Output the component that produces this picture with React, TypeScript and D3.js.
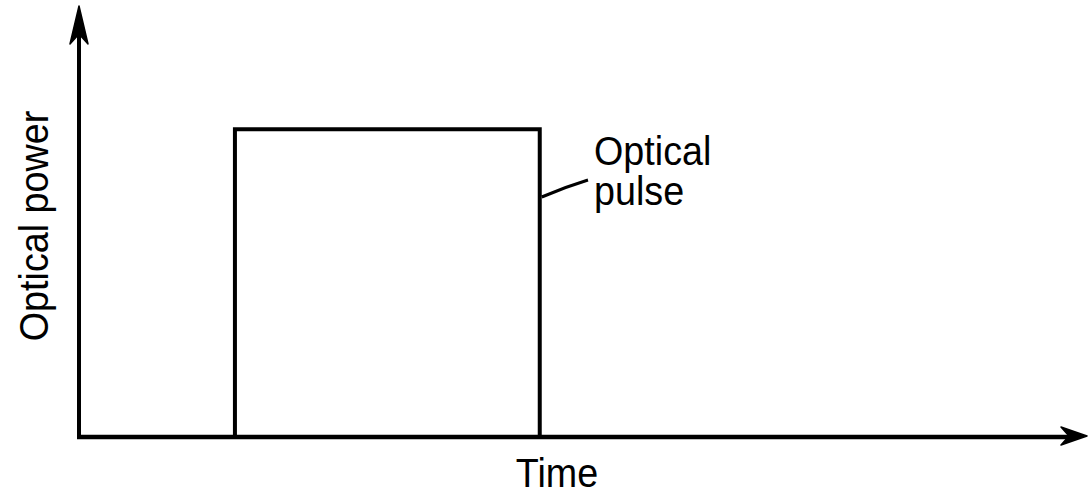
import { useEffect, useRef } from 'react';
import * as d3 from 'd3';

// pulse shape: time (arbitrary units) vs. optical power (normalised)
const pulseTime = [0, 1.55, 1.55, 4.58, 4.58, 10];
const pulsePower = [0, 0, 1, 1, 0, 0];
const timeDomain = [0, 10];
const powerDomain = [0, 1.4];
const axisLabels = { x: 'Time', y: 'Optical power' };
const pulseLabel = ['Optical', 'pulse'];

const App = () => {
  const svgRef = useRef<SVGSVGElement>(null);
  const width = 1088;
  const height = 496;

  useEffect(() => {
    const svg = d3.select(svgRef.current);
    svg.selectAll('*').remove();

    const x = d3.scaleLinear().domain(timeDomain).range([79, 1085]);
    const y = d3.scaleLinear().domain(powerDomain).range([437, 6]);
    const font = '"Liberation Sans", Arial, sans-serif';
    const fontSize = 41;
    const squeeze = 'scale(0.92,1)'; // the original lettering is a bit condensed

    // pulse (only the raised part, the axis covers the baseline)
    const pts = pulseTime.map((t, i) => [t, pulsePower[i]] as [number, number]).slice(1, 5);
    const line = d3.line<[number, number]>().x(d => x(d[0])).y(d => y(d[1]));
    svg.append('path')
      .attr('d', line(pts))
      .attr('fill', 'none')
      .attr('stroke', '#000')
      .attr('stroke-width', 4)
      .attr('stroke-linejoin', 'miter');

    // axes
    const x0 = x(timeDomain[0]);
    const y0 = y(powerDomain[0]);
    svg.append('line')
      .attr('x1', x0 - 2).attr('y1', y0)
      .attr('x2', 1078).attr('y2', y0)
      .attr('stroke', '#000').attr('stroke-width', 4.5);
    svg.append('line')
      .attr('x1', x0).attr('y1', y0 + 2)
      .attr('x2', x0).attr('y2', 14)
      .attr('stroke', '#000').attr('stroke-width', 4);

    // arrow heads
    const tipY = y(powerDomain[1]);
    svg.append('path')
      .attr('d', `M${x0},${tipY} L${x0 + 9},${tipY + 38} L${x0},${tipY + 28} L${x0 - 9},${tipY + 38} Z`)
      .attr('fill', '#000').attr('stroke', '#000').attr('stroke-width', 1.5).attr('stroke-linejoin', 'round');
    const tipX = 1087;
    svg.append('path')
      .attr('d', `M${tipX},${y0 - 1} L${tipX - 26},${y0 + 8} L${tipX - 18},${y0 - 1} L${tipX - 26},${y0 - 10} Z`)
      .attr('fill', '#000').attr('stroke', '#000').attr('stroke-width', 1.5).attr('stroke-linejoin', 'round');

    // leader line to pulse
    const px = x(pulseTime[3]);
    svg.append('path')
      .attr('d', `M${px + 2},197 Q565,187 588,180`)
      .attr('stroke', '#000').attr('stroke-width', 3).attr('fill', 'none');

    // labels
    svg.append('g')
      .attr('transform', `translate(594,165) ${squeeze}`)
      .append('text')
      .attr('font-family', font).attr('font-size', fontSize)
      .selectAll('tspan')
      .data(pulseLabel)
      .join('tspan')
      .attr('x', 0)
      .attr('dy', (d, i) => (i === 0 ? 0 : 40))
      .text(d => d);

    svg.append('g')
      .attr('transform', `translate(557,487) ${squeeze}`)
      .append('text')
      .attr('text-anchor', 'middle')
      .attr('font-family', font).attr('font-size', fontSize)
      .text(axisLabels.x);

    svg.append('g')
      .attr('transform', `translate(48,226) rotate(-90) ${squeeze}`)
      .append('text')
      .attr('text-anchor', 'middle')
      .attr('font-family', font).attr('font-size', fontSize)
      .text(axisLabels.y);
  }, []);

  return (
    <svg
      ref={svgRef}
      width={width}
      height={height}
      style={{ position: 'absolute', left: 0, top: 0, background: '#fff' }}
    />
  );
};

export default App;
